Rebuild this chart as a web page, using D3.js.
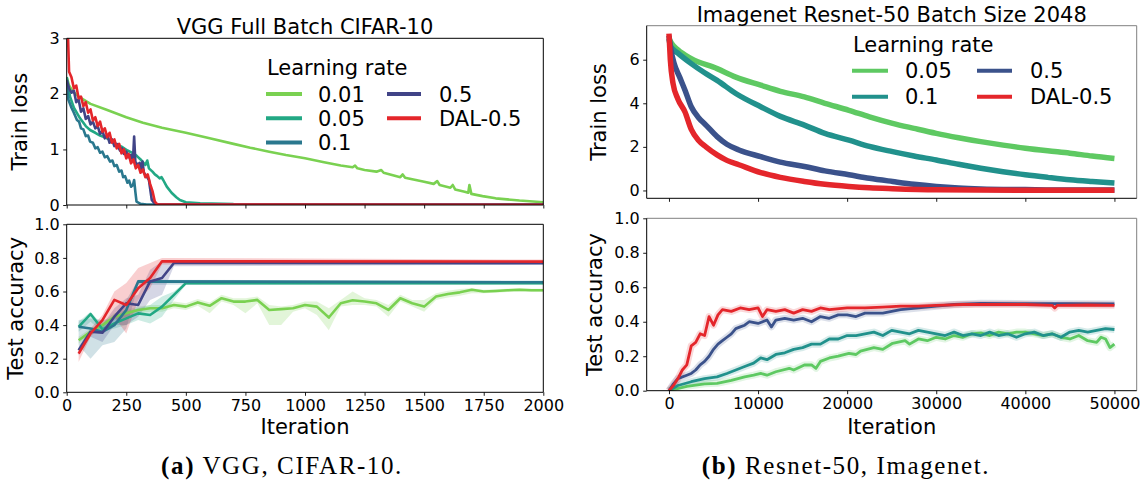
<!DOCTYPE html>
<html>
<head>
<script src="https://d3js.org/d3.v7.min.js"></script>
<style>
  html, body { margin: 0; padding: 0; background: #fff; }
  svg { display: block; font-family: "DejaVu Sans", sans-serif; }
</style>
</head>
<body>
<svg id="chart" width="1143" height="486"></svg>
<script>
// ---------- data: VGG full batch CIFAR-10 ----------
var vggLabels = ['0.01', '0.05', '0.1', '0.5', 'DAL-0.5'];
var vggColors = ['#7ad151', '#22a884', '#2a788e', '#414487', '#e4262b'];

// train loss, [iteration, loss]
var vggLoss001 = [[0,2.3],[10,2.15],[25,2.05],[50,1.95],[100,1.82],[170,1.71],[250,1.58],[320,1.48],[400,1.39],[500,1.3],
  [600,1.2],[700,1.1],[770,1.03],[850,0.96],[920,0.9],[1000,0.84],[1080,0.77],[1150,0.71],[1200,0.68],[1210,0.71],[1220,0.66],
  [1250,0.63],[1300,0.6],[1320,0.63],[1330,0.58],[1400,0.5],[1410,0.55],[1420,0.49],[1500,0.42],[1540,0.38],[1555,0.43],
  [1565,0.36],[1610,0.31],[1620,0.36],[1630,0.28],[1670,0.24],[1685,0.22],[1690,0.36],[1698,0.2],[1745,0.16],[1800,0.12],
  [1900,0.08],[2000,0.05]];
var vggLoss005 = [[0,2.3],[14,1.95],[30,1.75],[56,1.56],[80,1.42],[98,1.35],[120,1.3],[140,1.25],[160,1.22],[182,1.17],
  [205,1.1],[230,1.05],[255,0.98],[280,0.93],[295,0.88],[310,0.82],[330,0.72],[338,0.8],[345,0.66],[360,0.6],[370,0.55],
  [380,0.52],[390,0.48],[398,0.5],[405,0.45],[420,0.33],[440,0.22],[460,0.14],[475,0.09],[500,0.05],[560,0.03],[700,0.015],
  [2000,0.01]];
var vggLoss01 = [[0,2.2],[7,1.9],[20,1.75],[30,1.66],[43,1.53],[52,1.5],[60,1.38],[70,1.36],[80,1.24],[90,1.25],[98,1.14],
  [110,1.12],[120,1.02],[130,1.04],[140,0.94],[150,0.96],[160,0.86],[170,0.88],[182,0.78],[192,0.8],[200,0.7],[210,0.72],
  [220,0.6],[230,0.62],[237,0.5],[245,0.52],[255,0.4],[262,0.44],[270,0.33],[278,0.36],[283,0.45],[288,0.24],[293,0.06],
  [310,0.02],[336,0.01],[2000,0.005]];
var vggLoss05 = [[0,2.25],[10,2.1],[20,2.02],[30,2.06],[40,1.85],[50,1.9],[60,1.68],[70,1.74],[80,1.55],[90,1.6],[100,1.45],
  [110,1.5],[120,1.38],[130,1.42],[140,1.28],[150,1.33],[160,1.2],[170,1.26],[180,1.12],[190,1.18],[200,1.06],[210,1.1],
  [224,0.98],[232,1.02],[240,0.92],[250,0.96],[260,0.86],[270,0.9],[278,0.8],[283,1.23],[288,0.78],[298,0.72],[306,0.76],
  [312,0.62],[318,0.78],[324,0.58],[336,0.51],[345,0.45],[357,0.09],[372,0.01],[2000,0.01]];
var vggLossDal = [[0,3.2],[5,3.1],[10,2.4],[20,2.3],[30,2.1],[40,2.15],[50,1.92],[60,1.95],[70,1.78],[80,1.85],[90,1.66],
  [100,1.72],[110,1.52],[120,1.58],[130,1.42],[140,1.5],[150,1.32],[160,1.38],[170,1.22],[180,1.3],[190,1.12],[200,1.18],
  [210,1.02],[220,1.1],[230,0.93],[240,1.0],[250,0.84],[260,0.92],[270,0.75],[280,0.82],[290,0.66],[300,0.72],[310,0.58],
  [320,0.64],[330,0.5],[340,0.55],[350,0.38],[360,0.25],[370,0.06],[380,0.01],[2000,0.005]];

// test accuracy, [iteration, mean, min, max]
var vggAcc001 = [[50,0.31,0.29,0.33],[100,0.36,0.34,0.38],[150,0.40,0.38,0.42],[200,0.45,0.43,0.47],[250,0.47,0.45,0.49],
  [300,0.49,0.47,0.51],[350,0.50,0.48,0.52],[400,0.50,0.48,0.52],[450,0.52,0.50,0.54],[500,0.51,0.49,0.53],[550,0.535,0.515,0.555],
  [600,0.515,0.47,0.535],[650,0.56,0.54,0.58],[700,0.54,0.52,0.56],[750,0.54,0.47,0.56],[800,0.55,0.53,0.57],[850,0.49,0.40,0.52],
  [900,0.495,0.40,0.51],[950,0.50,0.48,0.52],[1000,0.52,0.50,0.54],[1050,0.51,0.46,0.54],[1100,0.445,0.37,0.50],[1150,0.53,0.51,0.55],
  [1200,0.548,0.52,0.60],[1250,0.54,0.52,0.56],[1300,0.53,0.51,0.55],[1350,0.49,0.45,0.52],[1400,0.56,0.54,0.58],[1450,0.53,0.51,0.55],
  [1500,0.51,0.48,0.55],[1550,0.57,0.55,0.59],[1600,0.585,0.565,0.605],[1650,0.595,0.575,0.615],[1700,0.61,0.59,0.62],
  [1750,0.60,0.59,0.61],[1800,0.603,0.593,0.613],[1850,0.607,0.597,0.617],[1900,0.61,0.60,0.62],[1950,0.607,0.597,0.617],
  [2000,0.607,0.597,0.617]];
var vggAcc005 = [[50,0.39,0.36,0.42],[100,0.466,0.42,0.48],[150,0.375,0.36,0.40],[200,0.41,0.38,0.44],[250,0.44,0.40,0.48],
  [300,0.47,0.43,0.50],[350,0.46,0.41,0.52],[400,0.51,0.45,0.57],[450,0.58,0.55,0.60],[500,0.65,0.64,0.66],[2000,0.65,0.64,0.66]];
var vggAcc01 = [[50,0.39,0.28,0.43],[100,0.38,0.20,0.44],[150,0.36,0.28,0.43],[200,0.40,0.30,0.44],[250,0.49,0.38,0.55],
  [300,0.66,0.64,0.67],[2000,0.655,0.645,0.665]];
var vggAcc05 = [[50,0.25,0.22,0.27],[100,0.36,0.33,0.38],[150,0.355,0.30,0.40],[200,0.45,0.40,0.50],[250,0.53,0.40,0.56],
  [300,0.52,0.45,0.58],[350,0.66,0.55,0.73],[400,0.68,0.58,0.78],[450,0.77,0.75,0.785],[2000,0.768,0.76,0.775]];
var vggAccDal = [[50,0.23,0.18,0.26],[100,0.35,0.33,0.38],[150,0.43,0.40,0.46],[200,0.55,0.45,0.60],[250,0.52,0.35,0.65],
  [300,0.62,0.55,0.74],[350,0.68,0.62,0.77],[400,0.78,0.76,0.80],[2000,0.778,0.765,0.79]];

// ---------- data: Imagenet Resnet-50 ----------
var resLabels = ['0.05', '0.1', '0.5', 'DAL-0.5'];
var resColors = ['#5ec962', '#21918c', '#3b528b', '#e4262b'];

var resLoss005 = [[0,7.0],[100,6.9],[300,6.75],[1000,6.45],[2500,6.05],[5400,5.59],[7500,5.2],[10300,4.83],[12500,4.55],
  [15200,4.29],[17500,4.0],[20200,3.68],[22500,3.38],[25100,3.08],[27500,2.85],[30000,2.62],[32500,2.42],[35000,2.24],
  [37500,2.08],[40000,1.94],[42500,1.82],[45000,1.71],[47500,1.58],[50000,1.47]];
var resLoss01 = [[0,6.95],[200,6.6],[1000,6.3],[2500,5.82],[4000,5.4],[5400,5.05],[7500,4.45],[10300,3.84],[12500,3.4],
  [15200,3.0],[17500,2.62],[20200,2.31],[22500,2.02],[25100,1.78],[27500,1.58],[30000,1.4],[32500,1.2],[35000,1.02],
  [37500,0.86],[40000,0.72],[42500,0.6],[45000,0.49],[47500,0.41],[50000,0.34]];
var resLoss05 = [[0,7.1],[200,6.5],[600,5.8],[1200,5.2],[1800,4.6],[2500,3.84],[3300,3.35],[4150,3.0],[5400,2.47],[6500,2.12],
  [7850,1.86],[10300,1.55],[12500,1.3],[15200,1.1],[17500,0.9],[20200,0.72],[22500,0.56],[25100,0.41],[27500,0.28],
  [30000,0.18],[32500,0.11],[35000,0.07],[40000,0.04],[45000,0.02],[50000,0.02]];
var resLossDal = [[0,7.2],[150,6.0],[460,4.9],[1000,4.2],[1800,3.6],[2500,2.8],[3300,2.3],[4150,2.0],[5400,1.63],[6500,1.38],
  [7850,1.18],[10300,0.82],[12500,0.6],[15200,0.41],[17500,0.28],[20200,0.18],[22500,0.12],[25100,0.08],[30000,0.03],
  [40000,0.01],[50000,0.01]];

var resAcc005 = [[0,0],[2000,0.025],[4000,0.04],[5400,0.043],[7000,0.06],[8500,0.08],[9500,0.09],[10300,0.10],[11000,0.09],
  [12000,0.11],[13500,0.13],[14000,0.12],[15200,0.149],[16000,0.15],[16500,0.13],[17000,0.17],[18000,0.19],[19000,0.2],
  [20200,0.217],[21000,0.21],[21500,0.23],[23000,0.25],[24000,0.24],[25100,0.275],[26500,0.29],[27000,0.27],[28000,0.3],
  [29000,0.29],[30000,0.31],[31000,0.30],[32000,0.32],[33000,0.31],[34000,0.33],[35000,0.335],[36000,0.32],[37000,0.34],
  [38000,0.33],[39000,0.34],[40000,0.34],[41000,0.33],[42000,0.32],[43000,0.33],[44000,0.31],[45000,0.30],[46000,0.32],
  [47000,0.29],[48000,0.28],[48500,0.31],[49000,0.30],[49500,0.25],[50000,0.27]];
var resAcc01 = [[0,0],[1000,0.03],[2500,0.052],[4000,0.07],[5400,0.08],[6500,0.10],[7500,0.12],[8500,0.14],[9500,0.16],
  [10300,0.19],[11000,0.18],[12000,0.21],[13000,0.22],[14000,0.24],[15000,0.25],[16000,0.27],[17000,0.27],[18000,0.30],
  [19000,0.30],[20000,0.32],[21000,0.32],[22000,0.33],[23000,0.34],[24000,0.32],[25000,0.35],[26000,0.34],[27000,0.33],
  [28000,0.35],[29000,0.34],[30000,0.33],[31000,0.32],[32000,0.34],[33000,0.32],[34000,0.33],[35000,0.32],[36000,0.34],
  [37000,0.32],[38000,0.33],[39000,0.31],[40000,0.33],[41000,0.34],[42000,0.32],[43000,0.33],[44000,0.31],[45000,0.34],
  [46000,0.35],[47000,0.34],[48000,0.35],[49000,0.36],[50000,0.355]];
var resAcc05 = [[0,0],[500,0.04],[1000,0.07],[2000,0.09],[2500,0.10],[3000,0.12],[3500,0.15],[4000,0.17],[4500,0.2],[5000,0.24],
  [5500,0.27],[6000,0.29],[6500,0.31],[7000,0.33],[7500,0.36],[8000,0.37],[8500,0.38],[9000,0.40],[10000,0.39],[11000,0.41],
  [11500,0.37],[12000,0.41],[13000,0.42],[14000,0.41],[15000,0.42],[16000,0.40],[17000,0.43],[18000,0.42],[19000,0.44],
  [20000,0.44],[21000,0.43],[22000,0.45],[24000,0.45],[26000,0.47],[28000,0.48],[30000,0.49],[32000,0.5],[35000,0.507],
  [40000,0.505],[45000,0.505],[50000,0.503]];
var resAccDal = [[0,0],[500,0.03],[1000,0.07],[1500,0.12],[2000,0.15],[2500,0.26],[3000,0.28],[3500,0.33],[4000,0.32],
  [4500,0.43],[5000,0.38],[5500,0.44],[6000,0.47],[7000,0.46],[8000,0.48],[9000,0.47],[10000,0.48],[10500,0.43],[11000,0.47],
  [12000,0.46],[13000,0.47],[14000,0.45],[15000,0.47],[16000,0.46],[17000,0.48],[18000,0.47],[20000,0.48],[22000,0.48],
  [24000,0.485],[26000,0.49],[28000,0.49],[30000,0.495],[33000,0.50],[36000,0.50],[40000,0.50],[43000,0.495],[43300,0.48],
  [43600,0.495],[47000,0.497],[50000,0.495]];

var vggLossTicks = [0, 1, 2, 3];
var accTicks = [0, 0.2, 0.4, 0.6, 0.8, 1.0];
var vggIterTicks = [0, 250, 500, 750, 1000, 1250, 1500, 1750, 2000];
var resLossTicks = [0, 2, 4, 6];
var resIterTicks = [0, 10000, 20000, 30000, 40000, 50000];

// ---------- drawing ----------
var svg = d3.select('#chart');
var clipId = 0;

function makePanel(box, xDomain, yDomain, xTicks, yTicks, yFmt, showXLabels, grayFrame) {
  var x = d3.scaleLinear().domain(xDomain).range([box.x0, box.x1]);
  var y = d3.scaleLinear().domain(yDomain).range([box.y1, box.y0]);
  var g = svg.append('g');
  var id = 'clip' + (clipId++);
  svg.append('clipPath').attr('id', id).append('rect')
    .attr('x', box.x0).attr('y', box.y0).attr('width', box.x1 - box.x0).attr('height', box.y1 - box.y0);
  var plot = g.append('g').attr('clip-path', 'url(#' + id + ')');

  var xa = d3.axisBottom(x).tickValues(xTicks).tickSize(3.5).tickPadding(3.5).tickSizeOuter(0)
    .tickFormat(showXLabels ? d3.format('d') : '');
  var ya = d3.axisLeft(y).tickValues(yTicks).tickSize(3.5).tickPadding(3.5).tickSizeOuter(0)
    .tickFormat(yFmt);
  var gx = g.append('g').attr('transform', 'translate(0,' + box.y1 + ')').call(xa);
  var gy = g.append('g').attr('transform', 'translate(' + box.x0 + ',0)').call(ya);
  [gx, gy].forEach(function(a) {
    a.select('.domain').remove();
    a.selectAll('line').attr('stroke', '#000').attr('stroke-width', 0.9);
    a.selectAll('text').attr('fill', '#000').style('font-size', '16px').style('font-family', '"DejaVu Sans", sans-serif');
  });

  var fc = grayFrame ? '#808080' : '#000';
  var fr = g.append('g').attr('stroke-width', 1).attr('fill', 'none');
  fr.append('line').attr('x1', box.x0).attr('x2', box.x1).attr('y1', box.y0).attr('y2', box.y0).attr('stroke', fc);
  fr.append('line').attr('x1', box.x1).attr('x2', box.x1).attr('y1', box.y0).attr('y2', box.y1).attr('stroke', fc);
  fr.append('line').attr('x1', box.x0).attr('x2', box.x1).attr('y1', box.y1).attr('y2', box.y1).attr('stroke', '#000');
  fr.append('line').attr('x1', box.x0).attr('x2', box.x0).attr('y1', box.y0).attr('y2', box.y1).attr('stroke', '#000');
  return { x: x, y: y, plot: plot, box: box };
}

function drawLine(p, data, color, width, curve, opacity) {
  var line = d3.line().x(function(d) { return p.x(d[0]); }).y(function(d) { return p.y(d[1]); })
    .curve(curve || d3.curveLinear);
  p.plot.append('path').datum(data).attr('d', line).attr('fill', 'none')
    .attr('stroke', color).attr('stroke-width', width).attr('stroke-linejoin', 'round')
    .attr('stroke-opacity', opacity == null ? 1 : opacity);
}

function drawBand(p, data, color) {
  var area = d3.area().x(function(d) { return p.x(d[0]); })
    .y0(function(d) { return p.y(d[2]); }).y1(function(d) { return p.y(d[3]); });
  p.plot.append('path').datum(data).attr('d', area).attr('fill', color).attr('fill-opacity', 0.22);
}

function yLabel(text, xBase, box) {
  svg.append('text').attr('transform', 'translate(' + xBase + ',' + ((box.y0 + box.y1) / 2) + ') rotate(-90)')
    .attr('text-anchor', 'middle').style('font-size', '21px').text(text);
}

function legend(pos, titleY, rows, cols, labels, colors, rowStep) {
  svg.append('text').attr('x', pos.title).attr('y', titleY).style('font-size', '21px').text('Learning rate');
  labels.forEach(function(lab, i) {
    var c = Math.floor(i / rows), r = i % rows;
    var cy = pos.rowY + r * rowStep;
    svg.append('line').attr('x1', cols[c].l0).attr('x2', cols[c].l1).attr('y1', cy).attr('y2', cy)
      .attr('stroke', colors[i]).attr('stroke-width', 4);
    svg.append('text').attr('x', cols[c].t).attr('y', cy + 7.5).style('font-size', '21px').text(lab);
  });
}

// ----- left: VGG -----
var lx0 = 66.7, lx1 = 543.3;
var vTop = makePanel({ x0: lx0, x1: lx1, y0: 38.3, y1: 205 }, [0, 2000], [0, 3], vggIterTicks, vggLossTicks,
  d3.format('d'), false, false);
var vBot = makePanel({ x0: lx0, x1: lx1, y0: 224.3, y1: 392.3 }, [0, 2000], [0, 1], vggIterTicks, accTicks,
  d3.format('.1f'), true, false);

[vggLoss001, vggLoss005, vggLoss01, vggLoss05, vggLossDal].forEach(function(s, i) {
  drawLine(vTop, s, vggColors[i], 2.6);
});
[vggAcc001, vggAcc005, vggAcc01, vggAcc05, vggAccDal].forEach(function(s, i) {
  drawBand(vBot, s, vggColors[i]);
});
[vggAcc001, vggAcc005, vggAcc01, vggAcc05, vggAccDal].forEach(function(s, i) {
  drawLine(vBot, s, vggColors[i], 2.6);
});

svg.append('text').attr('x', (lx0 + lx1) / 2).attr('y', 34).attr('text-anchor', 'middle')
  .style('font-size', '21px').text('VGG Full Batch CIFAR-10');
yLabel('Train loss', 27, vTop.box);
yLabel('Test accuracy', 23, vBot.box);
svg.append('text').attr('x', (lx0 + lx1) / 2).attr('y', 434).attr('text-anchor', 'middle')
  .style('font-size', '21px').text('Iteration');

legend({ title: 267, rowY: 94 }, 75, 3,
  [{ l0: 266, l1: 302, t: 318 }, { l0: 387, l1: 421, t: 439 }], vggLabels, vggColors, 24.3);

// ----- right: Resnet-50 -----
var rx0 = 646.7, rx1 = 1136.7;
var rTop = makePanel({ x0: rx0, x1: rx1, y0: 25.7, y1: 198.3 }, [-2500, 52500], [-0.36, 7.56], resIterTicks, resLossTicks,
  d3.format('d'), false, true);
var rBot = makePanel({ x0: rx0, x1: rx1, y0: 218.3, y1: 390.7 }, [-2500, 52500], [0, 1], resIterTicks, accTicks,
  d3.format('.1f'), true, true);

[resLoss005, resLoss01, resLoss05, resLossDal].forEach(function(s, i) {
  drawLine(rTop, s, resColors[i], 5.5, d3.curveMonotoneX);
});
[resAcc005, resAcc01, resAcc05, resAccDal].forEach(function(s, i) {
  drawLine(rBot, s, resColors[i], 7, d3.curveLinear, 0.18);
});
[resAcc005, resAcc01, resAcc05, resAccDal].forEach(function(s, i) {
  drawLine(rBot, s, resColors[i], 2.8);
});

svg.append('text').attr('x', (rx0 + rx1) / 2).attr('y', 22).attr('text-anchor', 'middle')
  .style('font-size', '21px').text('Imagenet Resnet-50 Batch Size 2048');
yLabel('Train loss', 606, rTop.box);
yLabel('Test accuracy', 602, rBot.box);
svg.append('text').attr('x', (rx0 + rx1) / 2).attr('y', 434).attr('text-anchor', 'middle')
  .style('font-size', '21px').text('Iteration');

legend({ title: 853, rowY: 70.7 }, 52, 2,
  [{ l0: 852, l1: 888, t: 905 }, { l0: 977, l1: 1012, t: 1030 }], resLabels, resColors, 26);

// ----- captions -----
function caption(cx, tag, rest) {
  var t = svg.append('text').attr('x', cx).attr('y', 474).attr('text-anchor', 'middle')
    .style('font-family', '"Liberation Serif", serif').style('font-size', '25px').style('letter-spacing', '1.6px');
  t.append('tspan').style('font-weight', 'bold').text(tag);
  t.append('tspan').text(' ' + rest);
}
caption(282, '(a)', 'VGG, CIFAR-10.');
caption(846, '(b)', 'Resnet-50, Imagenet.');
</script>
</body>
</html>
